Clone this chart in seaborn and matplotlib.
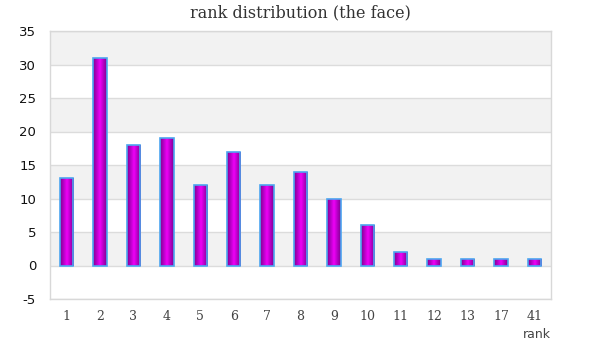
import numpy as np
import pandas as pd
import matplotlib
matplotlib.use("Agg")
import matplotlib.pyplot as plt
import seaborn as sns
from matplotlib.colors import LinearSegmentedColormap

ranks = ["1", "2", "3", "4", "5", "6", "7", "8", "9", "10", "11", "12", "13", "17", "41"]
counts = [13, 31, 18, 19, 12, 17, 12, 14, 10, 6, 2, 1, 1, 1, 1]
y_ticks = [-5, 0, 5, 10, 15, 20, 25, 30, 35]

df = pd.DataFrame({"rank": ranks, "count": counts})

sns.set_style("white")
fig = plt.figure(figsize=(6, 3.6), dpi=100)
ax = fig.add_axes([50 / 600, 1 - 299 / 360, 501 / 600, 268 / 360])

sns.barplot(data=df, x="rank", y="count", order=ranks, ax=ax, width=0.40,
            color="#e000e0", edgecolor="#4da6f0", linewidth=1.2, zorder=3)
bars = list(ax.patches)

ax.set_ylim(-5, 35)
ax.set_xlim(-0.5, len(ranks) - 0.5)

# alternating bands
for i, lo in enumerate(range(-5, 35, 5)):
    if i % 2 == 1:
        ax.axhspan(lo, lo + 5, color="#f2f2f2", zorder=0, lw=0)
for t in y_ticks:
    ax.axhline(t, color="#dcdcdc", lw=1, zorder=1)

# gradient fill inside bars
cmap = LinearSegmentedColormap.from_list(
    "mg", ["#820090", "#b400c4", "#f000f8", "#b400c4", "#820090"])
grad = np.linspace(0, 1, 64).reshape(1, -1)
for p in bars:
    x0, y0 = p.get_x(), p.get_y()
    w, h = p.get_width(), p.get_height()
    im = ax.imshow(grad, cmap=cmap, extent=[x0, x0 + w, y0, y0 + h],
                   aspect="auto", zorder=2.5, interpolation="bilinear")
    im.set_clip_path(p)
    p.set_facecolor("none")
    p.set_zorder(4)
ax.set_xlim(-0.5, len(ranks) - 0.5)
ax.set_ylim(-5, 35)

ax.set_yticks(y_ticks)
ax.set_yticklabels([str(t) for t in y_ticks], fontsize=9.5, color="#111111",
                   family="DejaVu Sans")
ax.set_xticks(range(len(ranks)))
ax.set_xticklabels(ranks, fontsize=9, color="#444444", family="DejaVu Serif")
ax.tick_params(axis="both", length=0)
ax.tick_params(axis="x", pad=8)
ax.tick_params(axis="y", pad=10)

for s in ax.spines.values():
    s.set_visible(True)
    s.set_color("#d8d8d8")
    s.set_linewidth(1)

ax.set_xlabel("")
ax.set_ylabel("")
fig.text(537 / 600, 1 - 334 / 360, "rank", ha="center", va="center",
         fontsize=9, color="#444444", family="DejaVu Sans")
fig.text(0.5, 1 - 13 / 360, "rank distribution (the face)", ha="center", va="center",
         fontsize=11.5, color="#333333", family="DejaVu Serif")

fig.savefig("out.png", dpi=100)
